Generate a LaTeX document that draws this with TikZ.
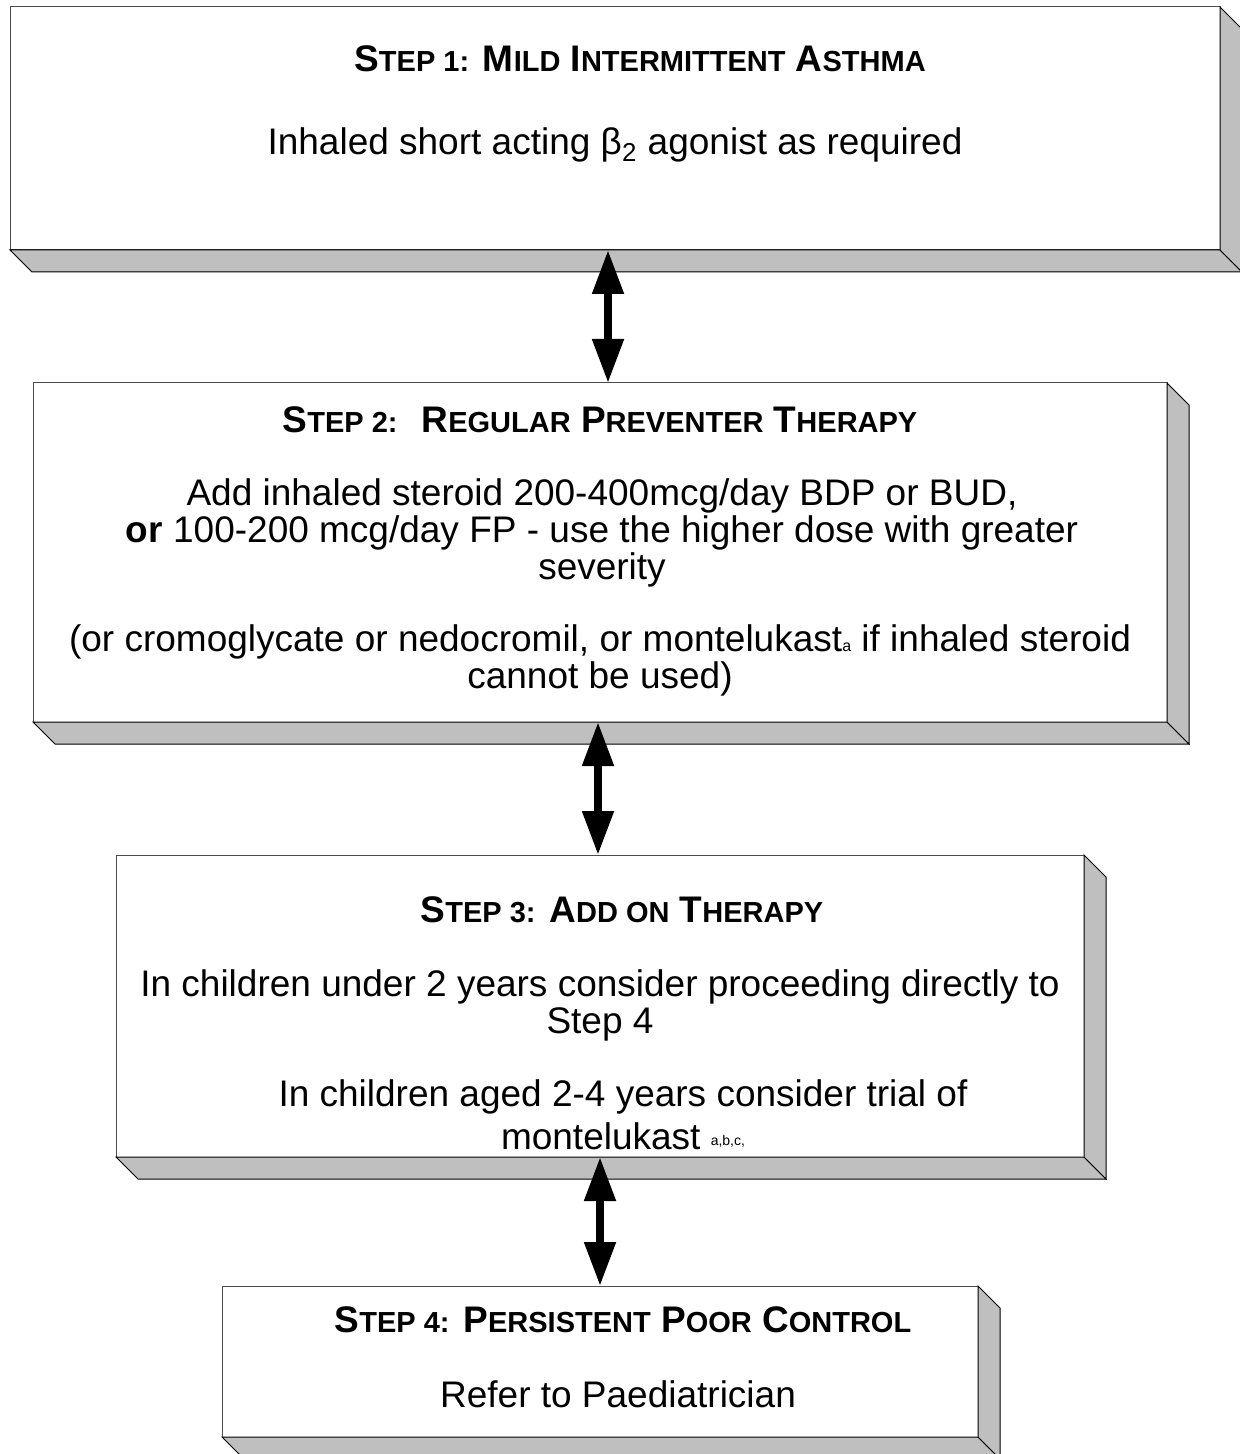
\documentclass[tikz,border=0pt]{standalone}
\usepackage{fontspec}
\setmainfont{Liberation Sans}
\usetikzlibrary{arrows.meta,positioning}

\newcommand{\smallcap}[1]{{\fontsize{14.5}{17}\selectfont #1}}

\begin{document}
\begin{tikzpicture}[node distance=66.5pt,>=Latex,line width=0.5pt]
\tikzstyle{stepbox}=[draw=black!70,fill=white,inner sep=0pt,outer sep=0pt]
\tikzstyle{slab}=[fill=black!25,draw=black,line width=0.5pt]
\tikzstyle{head}=[font=\fontsize{18.5}{18.5}\selectfont\bfseries,inner sep=0pt,anchor=base]
\tikzstyle{body}=[font=\fontsize{18.5}{18.5}\selectfont,align=center,inner sep=0pt,anchor=base]
\tikzstyle{updown}=[{Triangle[width=15pt,length=22pt]}-{Triangle[width=15pt,length=22pt]},line width=4pt]
\useasboundingbox (0,0) rectangle (619.5pt,-727pt);
\node[stepbox,minimum width=605pt,minimum height=121.5pt] (s1) at (307.5pt,-64.25pt) {};
\node[stepbox,minimum width=567pt,minimum height=169.5pt,below=of s1,xshift=-7.5pt] (s2) {};
\node[stepbox,minimum width=484pt,minimum height=151pt,below=of s2] (s3) {};
\node[stepbox,minimum width=378pt,minimum height=75.5pt,below=64.5pt of s3] (s4) {};
% grey bottom and right faces
\foreach \s in {s1,s2,s3,s4}{
  \draw[slab] (\s.south west) -- ++(11pt,-11pt) -- ([shift={(11pt,-11pt)}]\s.south east) -- (\s.south east) -- cycle;
  \draw[slab] (\s.north east) -- ++(11pt,-11pt) -- ([shift={(11pt,-11pt)}]\s.south east) -- (\s.south east) -- cycle;
}
% step 1
\node[head] (h1) at ([xshift=12.5pt,yshift=-32.5pt]s1.north) {S\smallcap{TEP 1:} M\smallcap{ILD} I\smallcap{NTERMITTENT} A\smallcap{STHMA}};
\node[body] (t1) at ([yshift=-74pt]s1.north) {Inhaled short acting β\textsubscript{2} agonist as required};
% step 2 (base of a multi-line node = its last line)
\node[head] (h2) at ([yshift=-24.5pt]s2.north) {S\smallcap{TEP 2:} \ R\smallcap{EGULAR} P\smallcap{REVENTER} T\smallcap{HERAPY}};
\node[body] (t2) at ([xshift=1pt,yshift=-98pt]s2.north) {Add inhaled steroid 200-400mcg/day BDP or BUD,\\ \textbf{or} 100-200 mcg/day FP - use the higher dose with greater\\ severity};
\node[body] (t2n) at ([yshift=-152.5pt]s2.north) {(or cromoglycate or nedocromil, or montelukast{\fontsize{8}{8}\selectfont a} if inhaled steroid\\ cannot be used)};
% step 3
\node[head] (h3) at ([xshift=11pt,yshift=-33.5pt]s3.north) {S\smallcap{TEP 3:} A\smallcap{DD ON} T\smallcap{HERAPY}};
\node[body] (t3) at ([yshift=-89pt]s3.north) {In children under 2 years consider proceeding directly to\\ Step 4};
\node[body] (t3n) at ([xshift=11.5pt,yshift=-147pt]s3.north) {In children aged 2-4 years consider trial of\\[3pt] montelukast \raisebox{2pt}{\fontsize{7}{7}\selectfont a,b,c,}};
% step 4
\node[head] (h4) at ([xshift=11.5pt,yshift=-23pt]s4.north) {S\smallcap{TEP 4:} P\smallcap{ERSISTENT} P\smallcap{OOR} C\smallcap{ONTROL}};
\node[body] (t4) at ([xshift=9pt,yshift=-60.5pt]s4.north) {Refer to Paediatrician};
% arrows between steps
\draw[updown] ([xshift=-3.5pt]s1.south) -- ([xshift=4pt]s2.north);
\draw[updown] ([xshift=-1pt]s2.south) -- ([xshift=-1pt]s3.north);
\draw[updown] (s3.south) -- (s4.north);
\end{tikzpicture}
\end{document}
